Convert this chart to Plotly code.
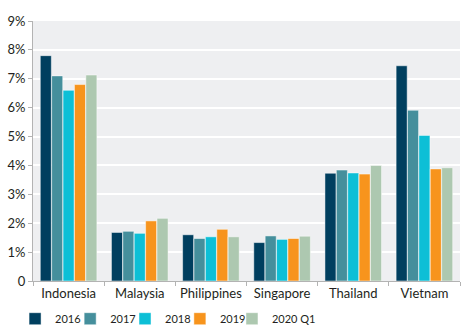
import plotly.graph_objects as go

countries = ["Indonesia", "Malaysia", "Philippines", "Singapore", "Thailand", "Vietnam"]
series_names = ["2016", "2017", "2018", "2019", "2020 Q1"]
values_2016 = [7.8, 1.68, 1.60, 1.33, 3.73, 7.45]
values_2017 = [7.1, 1.72, 1.47, 1.56, 3.84, 5.91]
values_2018 = [6.6, 1.65, 1.53, 1.44, 3.74, 5.04]
values_2019 = [6.8, 2.08, 1.79, 1.47, 3.70, 3.88]
values_2020q1 = [7.13, 2.17, 1.53, 1.55, 4.00, 3.92]
colors = ["#003f5f", "#458f9c", "#0dbfd6", "#f7941d", "#adc8b0"]

all_values = [values_2016, values_2017, values_2018, values_2019, values_2020q1]
y_ticks = [0, 1, 2, 3, 4, 5, 6, 7, 8, 9]
y_labels = ["0"] + [f"{t}%" for t in y_ticks[1:]]

# one legend box per series, laid out in a single row under the axis
legend_ids = ["legend", "legend2", "legend3", "legend4", "legend5"]
legend_x = [-0.042, 0.087, 0.2155, 0.344, 0.466]

fig = go.Figure()
for name, vals, col, lid in zip(series_names, all_values, colors, legend_ids):
    fig.add_trace(go.Bar(
        x=countries, y=vals, name=name, legend=lid,
        marker=dict(color=col, line=dict(color="rgba(255,255,255,0.6)", width=0.8)),
    ))

legend_layout = {
    lid: dict(
        orientation="h", x=lx, xanchor="left", y=-0.145, yanchor="middle",
        font=dict(size=11), itemwidth=30, bgcolor="rgba(0,0,0,0)",
    )
    for lid, lx in zip(legend_ids, legend_x)
}

fig.update_layout(
    width=468, height=334,
    margin=dict(l=33, r=8, t=21, b=53, autoexpand=False),
    paper_bgcolor="white",
    plot_bgcolor="#eeeff1",
    barmode="group",
    bargap=0.2,
    bargroupgap=0.03,
    font=dict(family="Lato, Noto Sans, sans-serif", size=13, color="#231f20"),
    showlegend=True,
    xaxis=dict(
        showgrid=False, showline=True, linecolor="#b3b3b3", linewidth=1,
        ticks="outside", tickson="boundaries", ticklen=4, tickcolor="#b3b3b3",
        tickfont=dict(size=13), tickangle=0,
    ),
    yaxis=dict(
        range=[0, 9], tickvals=y_ticks, ticktext=y_labels,
        showgrid=True, gridcolor="white", gridwidth=1.5,
        showline=True, linecolor="#b3b3b3", linewidth=1,
        ticks="outside", ticklen=4, tickcolor="#b3b3b3",
        zeroline=False, tickfont=dict(size=13),
    ),
    **legend_layout,
)

fig.write_html("out.html")
